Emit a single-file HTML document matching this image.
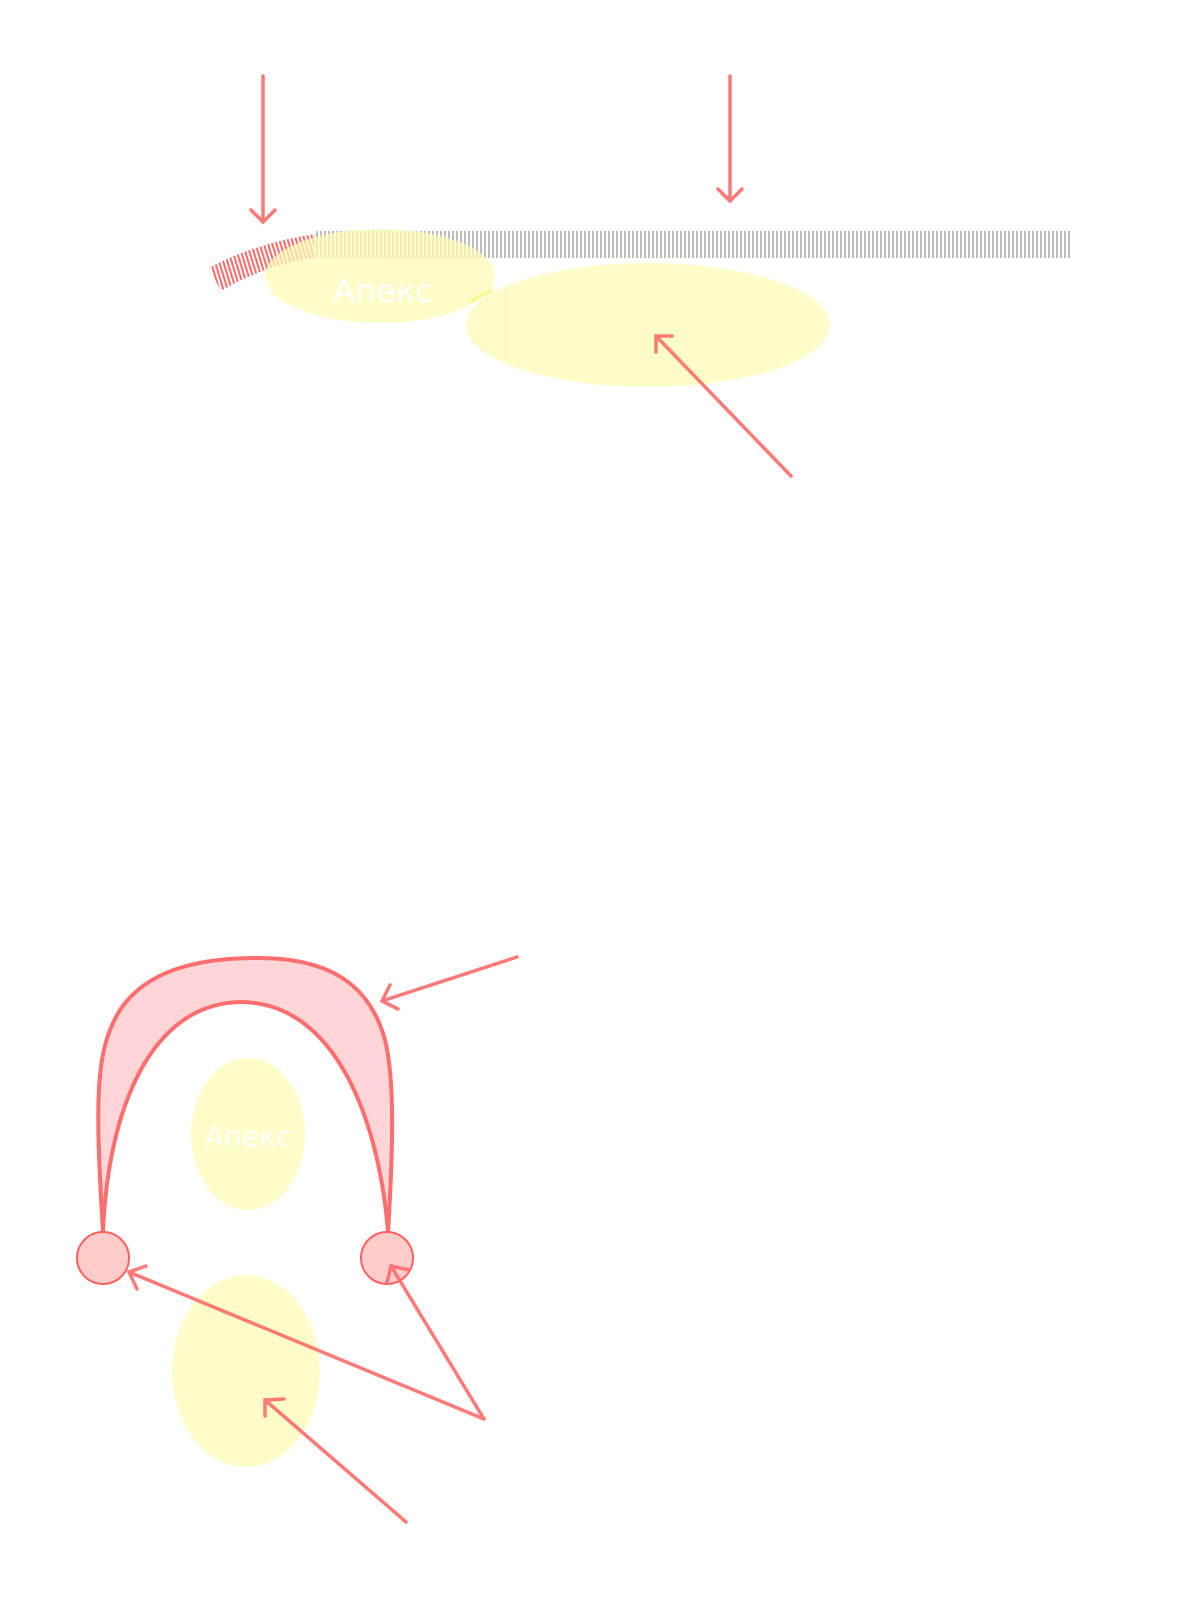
<!DOCTYPE html>
<html><head><meta charset="utf-8"><style>html,body{margin:0;padding:0;background:#fff}svg{display:block}</style></head>
<body>
<svg width="1199" height="1607" viewBox="0 0 1199 1607" xmlns="http://www.w3.org/2000/svg">
<defs>
<pattern id="g" width="4" height="10" patternUnits="userSpaceOnUse"><rect width="2" height="10" fill="#bdbdbd"/></pattern>
<pattern id="r" width="4" height="10" patternUnits="userSpaceOnUse" patternTransform="rotate(-17)"><rect width="2" height="10" fill="#ff6a6a"/></pattern>
</defs>
<rect x="316" y="231" width="756" height="27" fill="url(#g)"/>
<path d="M209,268 Q255,243 315,234 L314,258 Q262,266 221,291 Z" fill="url(#r)"/>
<g fill="#fdfcb8" opacity="0.75">
<ellipse cx="380" cy="276" rx="115" ry="47"/>
<ellipse cx="648" cy="325" rx="182" ry="62"/>
<ellipse cx="248" cy="1134" rx="57" ry="76"/>
<ellipse cx="246" cy="1371" rx="74" ry="96"/>
</g>
<path d="M470,302 L492,290" stroke="#f8f890" stroke-width="4"/>
<text x="383" y="302" font-family="DejaVu Sans, sans-serif" font-size="32" fill="#fff" text-anchor="middle">Апекс</text>
<text x="248" y="1146" font-family="DejaVu Sans, sans-serif" font-size="28" fill="#fff" text-anchor="middle">Апекс</text>
<path d="M103,1232 C95,1100 95,1050 120,1010 C150,965 210,958 258,958 C330,958 370,985 385,1040 C395,1080 393,1150 388,1232 C380,1130 340,1002 240,1002 C150,1004 108,1110 103,1232 Z" fill="#ffd6d8" stroke="#ff6e6e" stroke-width="4" stroke-linejoin="round"/>
<circle cx="103" cy="1258" r="26" fill="#ffcccc" stroke="#ff6060" stroke-width="2"/>
<circle cx="387" cy="1258" r="26" fill="#ffcccc" stroke="#ff6060" stroke-width="2"/>
<g stroke="#ff6e6e" stroke-width="3.5" fill="none" stroke-linecap="round" opacity="0.92">
<path d="M263,76 V222 M251,210 L263,222 L275,210"/>
<path d="M730,76 V201 M718,189 L730,201 L742,189"/>
<path d="M791,476 L656,336 M656,352 L656,336 L672,336"/>
<path d="M517,957 L382,1001 M398,1009 L382,1001 L390,985"/>
<path d="M484,1419 L129,1272 M137,1289 L129,1272 L146,1266"/>
<path d="M484,1419 L391,1266 M387,1283 L391,1266 L409,1270"/>
<path d="M406,1522 L265,1400 M265,1416 L265,1400 L284,1399"/>
</g>
</svg>
</body></html>
